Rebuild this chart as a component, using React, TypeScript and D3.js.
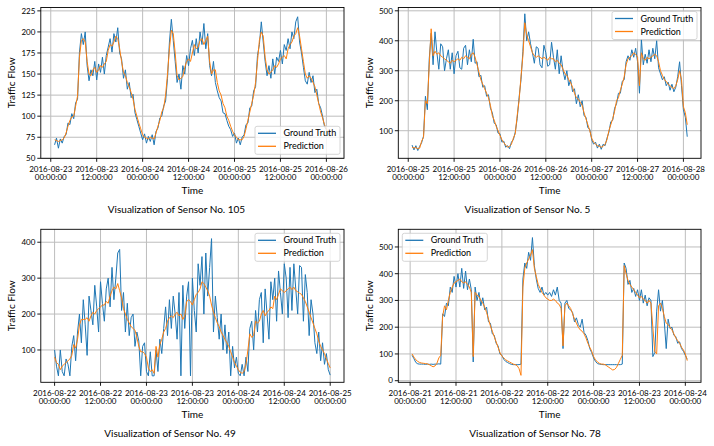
import React from 'react';
import * as d3 from 'd3';

// sensors shown, one per panel (row-major)
const sensors = [105, 5, 49, 78];
const startTimes = ['2016-08-23T01:00:00Z', '2016-08-25T01:00:00Z', '2016-08-22T00:00:00Z', '2016-08-21T00:30:00Z'];
const STEP_MS = 30 * 60 * 1000;

// sensor 105
const truth105 = [
  66, 74, 62, 73, 68, 76, 78, 92, 90, 103,
  97, 116, 120, 176, 198, 185, 200, 160, 142, 155,
  148, 165, 143, 162, 152, 170, 150, 172, 182, 192,
  176, 198, 188, 205, 175, 168, 145, 155, 132, 140,
  122, 126, 104, 96, 88, 80, 72, 79, 68, 76,
  70, 78, 66, 82, 86, 98, 100, 112, 118, 145,
  188, 215, 190, 165, 140, 150, 132, 160, 150, 172,
  160, 180, 190, 172, 192, 175, 200, 185, 210, 180,
  198, 160, 148, 165, 140, 130, 122, 118, 104, 103,
  95, 88, 84, 76, 80, 68, 74, 66, 75, 78,
  90, 92, 110, 112, 130, 135, 172, 185, 212, 188,
  165, 148, 160, 145, 168, 150, 170, 165, 178, 162,
  185, 178, 192, 180, 200, 192, 212, 218, 188, 175,
  158, 142, 138, 152, 140, 148, 128, 132, 115, 110,
  100, 88, 84, 78, 76,
];
const pred105 = [
  72, 71, 70, 71, 72, 74, 80, 88, 95, 99,
  100, 112, 124, 170, 190, 192, 188, 165, 150, 148,
  155, 158, 152, 155, 160, 158, 162, 165, 178, 185,
  183, 188, 195, 192, 180, 165, 152, 148, 140, 135,
  128, 120, 108, 100, 92, 85, 78, 75, 74, 73,
  75, 74, 73, 80, 88, 95, 105, 110, 125, 150,
  180, 202, 198, 175, 148, 143, 145, 147, 158, 165,
  168, 165, 175, 185, 180, 182, 190, 192, 185, 190,
  195, 165, 150, 155, 155, 140, 130, 125, 115, 110,
  100, 95, 88, 82, 78, 75, 72, 72, 72, 76,
  85, 95, 105, 115, 125, 140, 165, 190, 200, 195,
  170, 155, 150, 152, 155, 160, 158, 162, 168, 170,
  172, 168, 180, 185, 188, 195, 198, 205, 195, 180,
  165, 150, 145, 148, 145, 140, 135, 125, 115, 105,
  98, 90, 85, 80, 78,
];

// sensor 5
const truth5 = [
  52, 36, 50, 34, 48, 60, 82, 215, 170, 340,
  425, 320, 430, 360, 305, 390, 380, 300, 340, 370,
  305, 360, 290, 350, 365, 310, 305, 375, 385, 320,
  370, 330, 405, 325, 330, 280, 285, 245, 250, 215,
  220, 175, 160, 125, 120, 92, 90, 62, 65, 45,
  50, 40, 62, 70, 95, 140, 210, 270, 365, 490,
  400, 430, 390, 360, 325, 380, 375, 320, 310, 385,
  360, 315, 320, 395, 345, 305, 370, 290, 350, 300,
  270, 300, 250, 270, 230, 240, 190, 220, 180, 200,
  150, 145, 110, 105, 70, 55, 62, 42, 55, 38,
  55, 50, 75, 95, 130, 135, 175, 190, 225, 225,
  265, 270, 330, 350, 335, 370, 345, 375, 330, 225,
  405, 320, 355, 325, 370, 330, 375, 340, 400, 310,
  290, 270, 280, 250, 262, 235, 255, 230, 245, 280,
  330, 250, 170, 145, 80,
];
const pred5 = [
  45, 42, 44, 40, 42, 65, 78, 200, 190, 320,
  440, 350, 365, 355, 360, 350, 345, 340, 335, 330,
  325, 335, 330, 335, 340, 335, 345, 340, 350, 345,
  340, 355, 360, 345, 320, 295, 270, 255, 240, 225,
  210, 185, 150, 135, 115, 100, 85, 70, 60, 52,
  45, 48, 55, 75, 90, 150, 200, 280, 350, 460,
  420, 400, 380, 360, 350, 345, 350, 345, 340, 345,
  340, 335, 345, 340, 340, 330, 335, 325, 320, 305,
  290, 285, 270, 260, 245, 225, 210, 205, 195, 185,
  160, 140, 120, 100, 75, 62, 55, 50, 48, 45,
  48, 55, 70, 100, 120, 140, 165, 200, 210, 235,
  255, 280, 320, 340, 345, 350, 360, 355, 345, 250,
  360, 340, 335, 345, 340, 345, 350, 355, 350, 330,
  300, 285, 270, 265, 255, 250, 245, 240, 250, 270,
  300, 270, 180, 160, 120,
];

// sensor 49
const truth49 = [
  100, 55, 28, 100, 40, 28, 75, 60, 28, 110,
  140, 70, 150, 200, 120, 240, 170, 85, 250, 210,
  170, 280, 220, 150, 290, 230, 180, 270, 300, 220,
  330, 240, 300, 370, 380, 210, 260, 150, 230, 140,
  190, 200, 110, 150, 125, 28, 110, 120, 40, 28,
  95, 28, 28, 100, 40, 130, 90, 160, 220, 140,
  240, 160, 250, 200, 130, 260, 28, 280, 160, 250,
  290, 28, 300, 210, 150, 340, 280, 360, 200, 370,
  250, 330, 410, 150, 250, 190, 130, 200, 100, 170,
  90, 150, 28, 110, 50, 80, 35, 28, 60, 28,
  80, 40, 160, 180, 100, 210, 150, 240, 260, 120,
  270, 200, 130, 290, 240, 300, 180, 320, 260, 200,
  340, 300, 190, 330, 210, 340, 270, 200, 335, 330,
  180, 310, 260, 140, 240, 200, 120, 90, 150, 70,
  120, 60, 90, 45, 30,
];
const pred49 = [
  80, 65, 60, 45, 55, 60, 65, 70, 75, 85,
  115, 105, 130, 170, 185, 185, 185, 190, 180, 195,
  205, 200, 210, 215, 220, 225, 225, 235, 230, 250,
  265, 275, 270, 285, 265, 245, 215, 200, 185, 175,
  165, 160, 155, 135, 110, 95, 95, 90, 80, 50,
  40, 45, 35, 110, 80, 115, 130, 150, 160, 180,
  190, 195, 190, 200, 205, 195, 200, 185, 195, 235,
  240, 235, 225, 240, 255, 260, 270, 290, 285, 275,
  265, 250, 225, 205, 190, 175, 165, 150, 140, 130,
  120, 110, 95, 80, 65, 55, 45, 38, 35, 40,
  60, 100, 145, 135, 140, 180, 175, 180, 200, 210,
  195, 205, 210, 220, 215, 250, 240, 255, 270, 265,
  260, 265, 270, 275, 268, 275, 265, 262, 258, 255,
  245, 235, 220, 205, 190, 175, 160, 145, 125, 110,
  100, 90, 75, 62, 50,
];

// sensor 78
const truth78 = [
  95, 82, 68, 63, 62, 62, 62, 61, 62, 61,
  62, 61, 62, 62, 63, 62, 250, 240, 290, 280,
  350, 330, 390, 350, 400, 350, 420, 345, 410, 340,
  380, 340, 70, 350, 300, 330, 280, 310, 265, 275,
  220, 215, 175, 170, 140, 130, 100, 95, 80, 72,
  68, 64, 61, 60, 60, 60, 60, 62, 380, 440,
  420, 480, 450, 535, 430, 380, 345, 330, 350, 320,
  330, 320, 330, 315, 340, 320, 350, 300, 290, 120,
  290, 300, 270, 265, 255, 220, 235, 210, 200, 230,
  180, 170, 150, 120, 105, 85, 72, 64, 62, 61,
  60, 60, 60, 60, 60, 60, 60, 60, 60, 60,
  62, 440, 420, 360, 375, 330, 345, 315, 340, 300,
  340, 290, 320, 280, 310, 300, 90, 105, 260, 340,
  260, 300, 220, 120, 230, 195, 200, 170, 165, 140,
  145, 120, 110, 95, 80,
];
const pred78 = [
  100, 88, 78, 72, 68, 66, 65, 64, 63, 60,
  56, 52, 55, 65, 85, 95, 240, 280, 265, 300,
  330, 350, 365, 370, 375, 380, 370, 365, 370, 360,
  350, 330, 90, 330, 320, 315, 300, 290, 275, 255,
  230, 205, 185, 165, 145, 125, 105, 92, 85, 78,
  74, 70, 66, 62, 60, 56, 45, 20, 350, 420,
  440, 455, 470, 490, 420, 390, 360, 345, 330, 320,
  310, 305, 300, 300, 305, 300, 290, 285, 270, 130,
  280, 290, 280, 270, 250, 230, 215, 200, 190, 185,
  175, 160, 140, 125, 110, 90, 78, 70, 65, 62,
  62, 60, 55, 50, 45, 40, 42, 50, 65, 80,
  95, 430, 400, 375, 360, 350, 340, 330, 320, 310,
  315, 305, 300, 290, 300, 290, 200, 110, 100, 280,
  290, 270, 240, 215, 210, 200, 190, 175, 160, 150,
  140, 125, 115, 100, 75,
];

const truthSeries = [truth105, truth5, truth49, truth78];
const predSeries = [pred105, pred5, pred49, pred78];

const yTicks105 = [50, 75, 100, 125, 150, 175, 200, 225];
const yTicks5 = [100, 200, 300, 400, 500];
const yTicks49 = [100, 200, 300, 400];
const yTicks78 = [0, 100, 200, 300, 400, 500];
const yTickSets = [yTicks105, yTicks5, yTicks49, yTicks78];
const yDomains: [number, number][] = [[50, 229], [8, 511], [10, 436], [-6, 566]];

const seriesNames = ['Ground Truth', 'Prediction'];
const legendCorners = ['lower right', 'upper right', 'upper right', 'upper left'];

const BLUE = '#1f77b4';
const ORANGE = '#ff7f0e';
const GRID = '#bdbdbd';
const FONT = 'Lato, "Open Sans", sans-serif';

// plot areas in page pixels
const boxes = [
  { x0: 40.8, x1: 344, y0: 7.5, y1: 158.3, cap: 176.5 },
  { x0: 398.3, x1: 701, y0: 7.5, y1: 158.3, cap: 527.5 },
  { x0: 40.8, x1: 344, y0: 229.3, y1: 382.3, cap: 170 },
  { x0: 398.3, x1: 701, y0: 229.3, y1: 382.3, cap: 535 },
];

const fmtDate = d3.utcFormat('%Y-%m-%d');
const fmtTime = d3.utcFormat('%H:%M:%S');

function Panel({ idx }: { idx: number }) {
  const b = boxes[idx];
  const truth = truthSeries[idx];
  const pred = predSeries[idx];
  const t0 = new Date(startTimes[idx]).getTime();
  const n = Math.max(truth.length, pred.length);
  const t1 = t0 + (n - 1) * STEP_MS;
  const pad = (t1 - t0) * 0.05;

  const x = d3.scaleUtc().domain([new Date(t0 - pad), new Date(t1 + pad)]).range([b.x0, b.x1]);
  const y = d3.scaleLinear().domain(yDomains[idx]).range([b.y1, b.y0]);
  const line = d3.line<number>()
    .x((_, i) => x(new Date(t0 + i * STEP_MS)))
    .y(d => y(d));

  const xTicks = x.ticks(d3.utcHour.every(12)!);
  const yTicks = yTickSets[idx];
  const clipId = `clip${idx}`;

  // legend placement
  const lw = 85, lh = 28, gap = 4;
  const corner = legendCorners[idx];
  const lx = corner.includes('right') ? b.x1 - gap - lw : b.x0 + gap;
  const ly = corner.includes('lower') ? b.y1 - gap - lh : b.y0 + gap;

  return (
    <g>
      <defs>
        <clipPath id={clipId}>
          <rect x={b.x0} y={b.y0} width={b.x1 - b.x0} height={b.y1 - b.y0} />
        </clipPath>
      </defs>
      {/* grid */}
      {xTicks.map((t, i) => (
        <line key={'gx' + i} x1={x(t)} x2={x(t)} y1={b.y0} y2={b.y1} stroke={GRID} strokeWidth={1} />
      ))}
      {yTicks.map((v, i) => (
        <line key={'gy' + i} x1={b.x0} x2={b.x1} y1={y(v)} y2={y(v)} stroke={GRID} strokeWidth={1} />
      ))}
      <g clipPath={`url(#${clipId})`}>
        <path d={line(truth) || ''} fill="none" stroke={BLUE} strokeWidth={1} strokeLinejoin="round" />
        <path d={line(pred) || ''} fill="none" stroke={ORANGE} strokeWidth={1} strokeLinejoin="round" />
      </g>
      <rect x={b.x0} y={b.y0} width={b.x1 - b.x0} height={b.y1 - b.y0} fill="none" stroke="#000" strokeWidth={0.9} />
      {/* x ticks */}
      {xTicks.map((t, i) => (
        <g key={'xt' + i}>
          <line x1={x(t)} x2={x(t)} y1={b.y1} y2={b.y1 + 3.5} stroke="#000" strokeWidth={0.9} />
          <text x={x(t)} y={b.y1 + 13.4} textAnchor="middle" fontSize={8} fontFamily={FONT}>{fmtDate(t)}</text>
          <text x={x(t)} y={b.y1 + 22} textAnchor="middle" fontSize={8} fontFamily={FONT}>{fmtTime(t)}</text>
        </g>
      ))}
      {/* y ticks */}
      {yTicks.map((v, i) => (
        <g key={'yt' + i}>
          <line x1={b.x0 - 3.5} x2={b.x0} y1={y(v)} y2={y(v)} stroke="#000" strokeWidth={0.9} />
          <text x={b.x0 - 5.5} y={y(v)} dy="0.35em" textAnchor="end" fontSize={8} fontFamily={FONT}>{v}</text>
        </g>
      ))}
      <text x={(b.x0 + b.x1) / 2} y={b.y1 + 36} textAnchor="middle" fontSize={10} fontFamily={FONT}>Time</text>
      <text
        transform={`translate(${b.x0 - 25.5},${(b.y0 + b.y1) / 2}) rotate(-90)`}
        textAnchor="middle" fontSize={10} fontFamily={FONT}
      >Traffic Flow</text>
      <text x={b.cap} y={b.y1 + 54.4} textAnchor="middle" fontSize={10} fontFamily={FONT}>
        {`Visualization of Sensor No. ${sensors[idx]}`}
      </text>
      {/* legend */}
      <rect x={lx} y={ly} width={lw} height={lh} rx={2} fill="#fff" fillOpacity={0.8} stroke="#cccccc" strokeWidth={0.8} />
      {seriesNames.map((name, i) => (
        <g key={name}>
          <line x1={lx + 3} x2={lx + 21} y1={ly + 7 + i * 13} y2={ly + 7 + i * 13}
            stroke={i === 0 ? BLUE : ORANGE} strokeWidth={1.3} />
          <text x={lx + 28.5} y={ly + 7 + i * 13} dy="0.35em" fontSize={9} fontFamily={FONT}>{name}</text>
        </g>
      ))}
    </g>
  );
}

export default function App() {
  return (
    <svg width={714} height={446} style={{ position: 'absolute', left: 0, top: 0, background: '#fff' }}>
      {sensors.map((_, i) => <Panel key={i} idx={i} />)}
    </svg>
  );
}
